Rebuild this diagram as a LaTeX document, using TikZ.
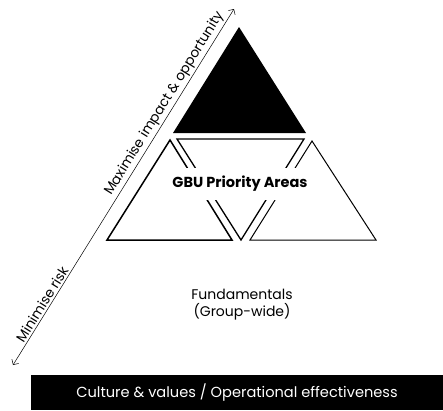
\documentclass[tikz,border=0pt]{standalone}
\usepackage{fontspec}
\setmainfont{Poppins}
\usepackage{tikz}
\usetikzlibrary{positioning,arrows.meta}

\begin{document}
\begin{tikzpicture}[x=1pt, y=-1pt]
   \tikzset{
     label/.style  = { font       = \fontsize{14}{17}\selectfont,
                       align      = center },
     head/.style   = { font       = \fontsize{14.5}{17}\selectfont\bfseries,
                       fill       = white,
                       inner xsep = 1pt,
                       inner ysep = 8pt },
     bar/.style    = { fill           = black,
                       text           = white,
                       font           = \fontsize{14.6}{17}\selectfont,
                       minimum width  = 412pt,
                       minimum height = 35pt,
                       inner sep      = 0pt },
     axis/.style   = { {Straight Barb[length=4pt,width=8pt]}-{Straight Barb[length=4pt,width=8pt]},
                       line width = .5pt },
     side/.style   = { font = \fontsize{13.6}{16}\selectfont,
                       sloped, above, inner sep = 2pt },
  }

  \useasboundingbox (0,0) rectangle (443,410);

  % pyramid of four triangles
  \fill [black] (239,27) -- (306,133) -- (173,133) -- cycle;
  \draw [line width = 1.5pt, line join = miter]
    (170,140) -- (232,240) -- (107,240) -- cycle;
  \draw [line width = 1pt, line join = miter]
    (312,141) -- (376,240) -- (250,240) -- cycle;
  \draw [line width = 1.3pt, line join = miter, fill = white]
    (177,139) -- (304,139) -- (241,240) -- cycle;

  \node [head] (GBU) at (240,184) {GBU Priority Areas};

  \node [label] (Fund) at (242,305) {Fundamentals\\(Group-wide)};

  % risk axis
  \coordinate (Low)  at (13,365);
  \coordinate (High) at (234,9);
  \draw [axis] (Low) -- (High)
    node [side, pos = .16] (Risk) {Minimise risk}
    node [side, pos = .72] (Gain) {Maximise impact \& opportunity};

  \node [bar] (Culture) at (237,392.5)
    {Culture \& values / Operational effectiveness};

\end{tikzpicture}
\end{document}
